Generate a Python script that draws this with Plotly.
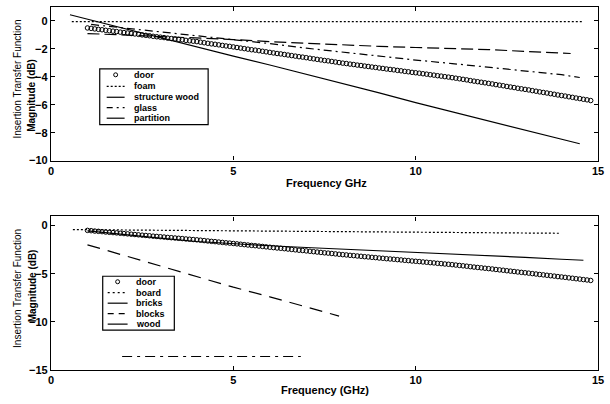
import numpy as np
import plotly.graph_objects as go

# ---------------- data ----------------
door_freq = np.round(np.arange(1.0, 14.85, 0.1), 1)
door_db = [
    -0.50, -0.53, -0.57, -0.60, -0.63, -0.67, -0.70, -0.73, -0.76, -0.80,
    -0.83, -0.86, -0.90, -0.93, -0.96, -1.00, -1.03, -1.06, -1.10, -1.13,
    -1.16, -1.19, -1.23, -1.26, -1.29, -1.32, -1.35, -1.39, -1.42, -1.45,
    -1.48, -1.52, -1.56, -1.60, -1.64, -1.67, -1.71, -1.75, -1.79, -1.82,
    -1.86, -1.90, -1.94, -1.98, -2.02, -2.06, -2.09, -2.13, -2.17, -2.21,
    -2.25, -2.29, -2.33, -2.36, -2.40, -2.44, -2.48, -2.52, -2.56, -2.59,
    -2.63, -2.67, -2.71, -2.75, -2.79, -2.83, -2.86, -2.90, -2.94, -2.98,
    -3.02, -3.05, -3.09, -3.12, -3.16, -3.19, -3.23, -3.26, -3.30, -3.33,
    -3.37, -3.40, -3.44, -3.47, -3.50, -3.54, -3.57, -3.61, -3.64, -3.68,
    -3.71, -3.74, -3.78, -3.81, -3.85, -3.88, -3.92, -3.95, -3.99, -4.02,
    -4.06, -4.10, -4.14, -4.18, -4.22, -4.27, -4.31, -4.35, -4.39, -4.43,
    -4.47, -4.51, -4.56, -4.60, -4.64, -4.69, -4.73, -4.77, -4.82, -4.86,
    -4.90, -4.94, -4.99, -5.03, -5.08, -5.12, -5.16, -5.21, -5.25, -5.30,
    -5.34, -5.38, -5.43, -5.47, -5.52, -5.56, -5.61, -5.65, -5.70,
]

# top panel
foam_freq = [0.57, 3.0, 6.0, 9.0, 12.0, 14.6]
foam_db = [-0.05, -0.05, -0.05, -0.05, -0.05, -0.05]

struct_freq = [1.0, 2.0, 3.0, 4.0, 5.0, 6.0, 7.0, 8.0, 9.0, 10.0, 11.0, 12.0, 13.0, 14.25]
struct_db = [-0.90, -1.00, -1.12, -1.22, -1.33, -1.48, -1.60, -1.72, -1.82, -1.90, -1.97, -2.05, -2.18, -2.33]

glass_freq = [1.1, 2.0, 3.0, 4.0, 5.0, 6.0, 7.0, 8.0, 9.0, 10.0, 11.0, 12.0, 13.0, 14.0, 14.5]
glass_db = [-0.25, -0.50, -0.78, -1.05, -1.30, -1.62, -1.95, -2.25, -2.52, -2.80, -3.05, -3.30, -3.58, -3.85, -4.05]

partition_freq = [0.52, 1.0, 2.0, 3.0, 4.0, 5.0, 6.0, 7.0, 8.0, 9.0, 10.0, 11.0, 12.0, 13.0, 14.0, 14.5]
partition_db = [0.45, 0.13, -0.52, -1.20, -1.88, -2.52, -3.15, -3.80, -4.50, -5.15, -5.85, -6.50, -7.15, -7.80, -8.45, -8.80]

# bottom panel
board_freq = [0.6, 3.0, 6.0, 9.0, 12.0, 13.95]
board_db = [-0.42, -0.50, -0.60, -0.70, -0.76, -0.80]

bricks_freq = [1.0, 2.0, 3.0, 4.0, 5.0, 6.0, 7.0, 8.0, 9.0, 10.0, 11.0, 12.0, 13.0, 14.0, 14.6]
bricks_db = [-0.55, -0.95, -1.30, -1.65, -1.90, -2.10, -2.28, -2.45, -2.60, -2.75, -2.90, -3.10, -3.30, -3.50, -3.60]

blocks_freq = [1.0, 2.0, 3.0, 4.0, 5.0, 6.0, 7.0, 7.9]
blocks_db = [-2.0, -3.1, -4.2, -5.35, -6.4, -7.4, -8.45, -9.4]

wood_freq = [1.95, 3.0, 4.0, 5.0, 6.0, 6.85]
wood_db = [-13.6, -13.6, -13.6, -13.6, -13.6, -13.6]

top_legend = ["door", "foam", "structure wood", "glass", "partition"]
bot_legend = ["door", "board", "bricks", "blocks", "wood"]

x_ticks = [0, 5, 10, 15]
y_ticks_top = [0, -2, -4, -6, -8, -10]
y_ticks_bot = [0, -5, -10, -15]

# ---------------- layout helpers ----------------
W, H = 610, 404
L, R, T, B = 51, 9, 6, 34
FONT = "Liberation Sans, Arial, sans-serif"


def px(x):
    return (x - L) / (W - L - R)


def py(y):
    return (H - B - y) / (H - T - B)


DOT = "2px,2px"
LDASH = "12px,5px"
DASHDOT = "8px,4px,2px,4px"
BLOCKDASH = "13px,8px"
WOODDD = "10px,5px,3px,5px"

fig = go.Figure()


def line(x, y, ax, dash="solid", width=1.2):
    fig.add_trace(go.Scatter(
        x=x, y=y, mode="lines", xaxis=ax[0], yaxis=ax[1], showlegend=False,
        line=dict(color="black", width=width, dash=dash), hoverinfo="skip"))


def door(ax):
    fig.add_trace(go.Scatter(
        x=door_freq, y=door_db, mode="markers", xaxis=ax[0], yaxis=ax[1],
        showlegend=False, hoverinfo="skip",
        marker=dict(symbol="circle-open", size=4.5, color="black",
                    line=dict(width=1, color="black"))))


top = ("x", "y")
bot = ("x2", "y2")

door(top)
line(foam_freq, foam_db, top, DOT)
line(struct_freq, struct_db, top, LDASH)
line(glass_freq, glass_db, top, DASHDOT)
line(partition_freq, partition_db, top, "solid", 1.1)

door(bot)
line(board_freq, board_db, bot, DOT)
line(bricks_freq, bricks_db, bot, "solid", 1.1)
line(blocks_freq, blocks_db, bot, BLOCKDASH)
line(wood_freq, wood_db, bot, WOODDD)

axis_common = dict(
    showline=True, linecolor="black", linewidth=1.3, mirror="ticks",
    ticks="inside", ticklen=4, tickwidth=1, tickcolor="black",
    showgrid=False, zeroline=False,
    tickfont=dict(family=FONT, size=11, color="black", weight="bold"),
)

shapes = []
annotations = []


def legend(box, rows, labels, styles, sym_x, text_x):
    x0, y0, x1, y1 = box
    shapes.append(dict(type="rect", xref="paper", yref="paper",
                       x0=px(x0), x1=px(x1), y0=py(y0), y1=py(y1),
                       line=dict(color="black", width=1.2), fillcolor="white",
                       layer="above"))
    for yy, lab, st in zip(rows, labels, styles):
        if st == "marker":
            cx = (sym_x[0] + sym_x[1]) / 2
            shapes.append(dict(type="circle", xref="paper", yref="paper",
                               x0=px(cx - 2), x1=px(cx + 2), y0=py(yy - 2), y1=py(yy + 2),
                               line=dict(color="black", width=1), layer="above"))
        else:
            shapes.append(dict(type="line", xref="paper", yref="paper",
                               x0=px(sym_x[0]), x1=px(sym_x[1]), y0=py(yy), y1=py(yy),
                               line=dict(color="black", width=1.2, dash=st), layer="above"))
        annotations.append(dict(text=lab, xref="paper", yref="paper",
                                x=px(text_x), y=py(yy), xanchor="left", yanchor="middle",
                                showarrow=False,
                                font=dict(family=FONT, size=9, color="black", weight="bold")))


legend((100, 68, 209, 124), [74, 85.5, 96.5, 107, 117.5], top_legend,
       ["marker", DOT, "solid", "6px,4px,2px,4px", "solid"], (107, 125), 132)
legend((103, 276, 175, 330), [281.5, 292.5, 303, 313.5, 324], bot_legend,
       ["marker", "2px,3px", "solid", "6px,5px", "solid"], (108, 128), 134)

# axis titles as annotations
for cy1, cy2 in [(78, 95), (288, 286)]:
    annotations.append(dict(text="Insertion Transfer Function", xref="paper", yref="paper",
                            x=px(17.5), y=py(cy1), textangle=-90, showarrow=False,
                            xanchor="center", yanchor="middle",
                            font=dict(family=FONT, size=10, color="black")))
    annotations.append(dict(text="Magnitude (dB)", xref="paper", yref="paper",
                            x=px(32), y=py(cy2), textangle=-90, showarrow=False,
                            xanchor="center", yanchor="middle",
                            font=dict(family=FONT, size=10, color="black", weight="bold")))

annotations.append(dict(text="Frequency GHz", xref="paper", yref="paper",
                        x=px(328), y=py(182), showarrow=False,
                        xanchor="center", yanchor="middle",
                        font=dict(family=FONT, size=11, color="black", weight="bold")))
annotations.append(dict(text="Frequency (GHz)", xref="paper", yref="paper",
                        x=px(326), y=py(390), showarrow=False,
                        xanchor="center", yanchor="middle",
                        font=dict(family=FONT, size=11, color="black", weight="bold")))

fig.update_layout(
    width=W, height=H,
    margin=dict(l=L, r=R, t=T, b=B),
    paper_bgcolor="white", plot_bgcolor="white",
    showlegend=False,
    xaxis=dict(domain=[0, 1], anchor="y", range=[0, 15], tickvals=x_ticks, **axis_common),
    yaxis=dict(domain=[py(160), 1], anchor="x", range=[-10, 1], tickvals=y_ticks_top, **axis_common),
    xaxis2=dict(domain=[0, 1], anchor="y2", range=[0, 15], tickvals=x_ticks, **axis_common),
    yaxis2=dict(domain=[0, py(216)], anchor="x2", range=[-15, 0.95], tickvals=y_ticks_bot, **axis_common),
    shapes=shapes,
    annotations=annotations,
)

fig.write_html(
    "out.html",
    config={"displayModeBar": False},
    post_script="document.body.style.margin='0';document.body.style.overflow='hidden';",
)
